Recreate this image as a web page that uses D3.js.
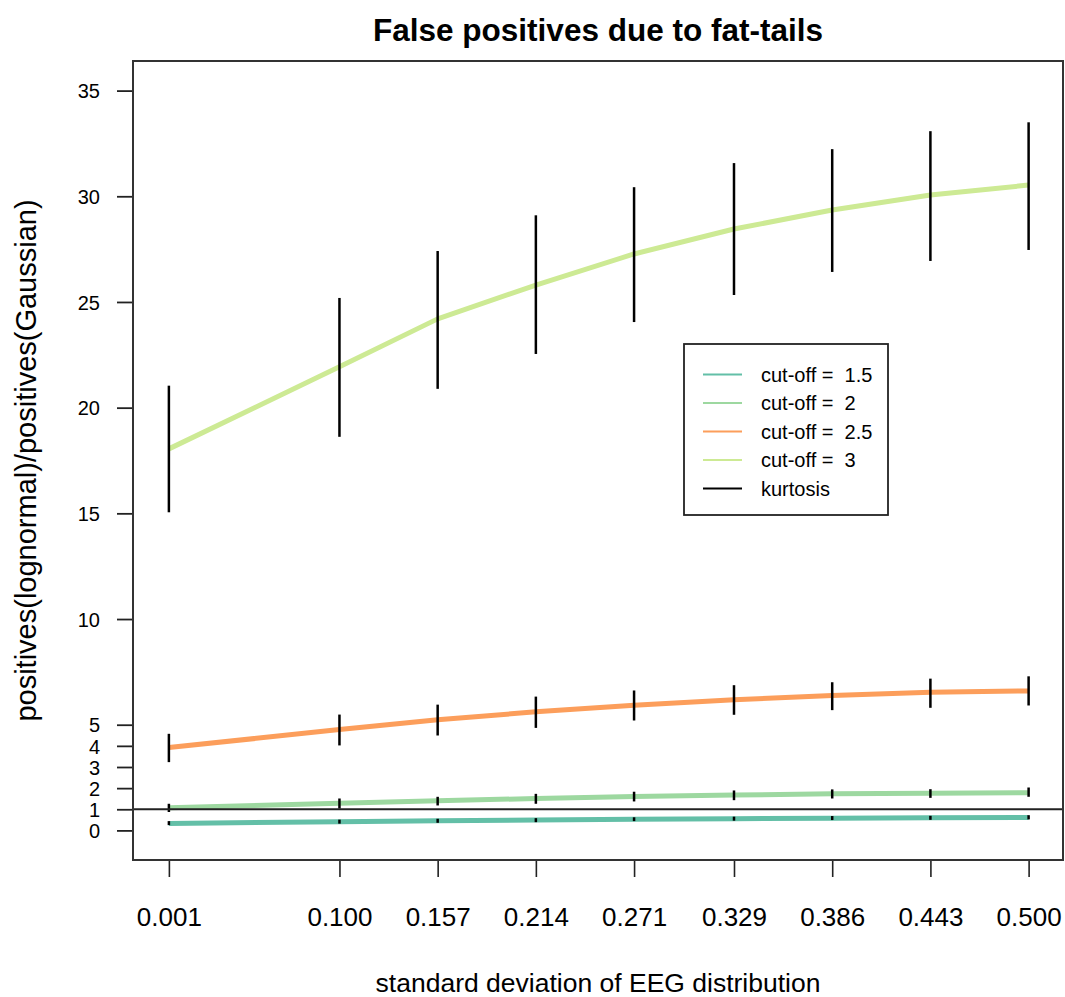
<!DOCTYPE html>
<html>
<head>
<meta charset="utf-8">
<script src="https://cdn.jsdelivr.net/npm/d3@7"></script>
<style>
  html, body { margin: 0; padding: 0; background: #fff; }
  svg { display: block; }
  text { font-family: "Liberation Sans", Arial, Helvetica, sans-serif; fill: #000; }
</style>
</head>
<body>
<svg id="chart" width="1065" height="997"></svg>
<script>
// ---------------- data ----------------
const xValues = [0.001, 0.100, 0.157, 0.214, 0.271, 0.329, 0.386, 0.443, 0.500];
const xTickLabels = ["0.001", "0.100", "0.157", "0.214", "0.271", "0.329", "0.386", "0.443", "0.500"];
const yTicks = [0, 1, 2, 3, 4, 5, 10, 15, 20, 25, 30, 35];

const seriesNames = ["cut-off =  1.5", "cut-off =  2", "cut-off =  2.5", "cut-off =  3"];
const seriesColors = ["#63bfa7", "#9dd8a0", "#fc9e5b", "#cdea94"];

const cut15 = [0.33, 0.41, 0.46, 0.49, 0.53, 0.55, 0.58, 0.60, 0.61];
const cut15Lo = [0.25, 0.32, 0.36, 0.39, 0.44, 0.46, 0.49, 0.50, 0.52];
const cut15Hi = [0.44, 0.51, 0.55, 0.58, 0.62, 0.65, 0.68, 0.69, 0.72];

const cut2 = [1.07, 1.28, 1.40, 1.51, 1.61, 1.67, 1.73, 1.76, 1.78];
const cut2Lo = [0.87, 1.03, 1.18, 1.26, 1.37, 1.43, 1.51, 1.54, 1.59];
const cut2Hi = [1.26, 1.51, 1.59, 1.73, 1.83, 1.89, 1.94, 1.95, 2.03];

const cut25 = [3.92, 4.77, 5.23, 5.61, 5.92, 6.18, 6.38, 6.54, 6.60];
const cut25Lo = [3.23, 4.02, 4.49, 4.85, 5.20, 5.47, 5.69, 5.80, 5.91];
const cut25Hi = [4.57, 5.48, 5.95, 6.33, 6.62, 6.87, 7.01, 7.18, 7.29];

const cut3 = [18.05, 21.93, 24.20, 25.80, 27.27, 28.45, 29.35, 30.06, 30.53];
const cut3Lo = [15.05, 18.62, 20.89, 22.54, 24.05, 25.33, 26.42, 26.94, 27.46];
const cut3Hi = [21.04, 25.19, 27.41, 29.10, 30.43, 31.57, 32.23, 33.08, 33.50];

const refLine = 1;

const seriesVals = [cut15, cut2, cut25, cut3];
const seriesLo = [cut15Lo, cut2Lo, cut25Lo, cut3Lo];
const seriesHi = [cut15Hi, cut2Hi, cut25Hi, cut3Hi];

// ---------------- layout ----------------
const svg = d3.select("#chart");
const plot = { left: 133, right: 1063, top: 61, bottom: 860 };

// R-style 4% axis extension
function ext(lo, hi) { const d = (hi - lo) * 0.04; return [lo - d, hi + d]; }

const x = d3.scaleLinear().domain(ext(0.001, 0.5)).range([plot.left + 1.5, plot.right]);
const y = d3.scaleLinear().domain(ext(0, 35)).range([plot.bottom, plot.top]);

// title
svg.append("text")
  .attr("x", (plot.left + plot.right) / 2)
  .attr("y", 41)
  .attr("text-anchor", "middle")
  .attr("font-size", 31.5)
  .attr("font-weight", "bold")
  .text("False positives due to fat-tails");

// x axis
const xAxis = d3.axisBottom(x)
  .tickValues(xValues)
  .tickFormat((d, i) => xTickLabels[i])
  .tickSize(17)
  .tickPadding(0);
const gx = svg.append("g").attr("transform", `translate(0,${plot.bottom})`).call(xAxis);
gx.select(".domain").remove();
gx.selectAll(".tick line").attr("stroke", "#222").attr("stroke-width", 1.6);
gx.selectAll(".tick text")
  .attr("y", 66).attr("dy", 0)
  .attr("font-size", 26)
  .attr("font-family", "\"Liberation Sans\", Arial, sans-serif")
  .attr("fill", "#000");

// y axis
const yAxis = d3.axisLeft(y)
  .tickValues(yTicks)
  .tickFormat(d3.format("d"))
  .tickSize(16)
  .tickPadding(0);
const gy = svg.append("g").attr("transform", `translate(${plot.left},0)`).call(yAxis);
gy.select(".domain").remove();
gy.selectAll(".tick line").attr("stroke", "#222").attr("stroke-width", 1.8);
gy.selectAll(".tick text")
  .attr("x", -33).attr("dy", "0.36em")
  .attr("font-size", 20)
  .attr("font-family", "\"Liberation Sans\", Arial, sans-serif")
  .attr("fill", "#000");

// axis titles
svg.append("text")
  .attr("x", (plot.left + plot.right) / 2)
  .attr("y", 992)
  .attr("text-anchor", "middle")
  .attr("font-size", 26.5)
  .text("standard deviation of EEG distribution");

svg.append("text")
  .attr("transform", `translate(36,${(plot.top + plot.bottom) / 2}) rotate(-90)`)
  .attr("text-anchor", "middle")
  .attr("font-size", 29)
  .text("positives(lognormal)/positives(Gaussian)");

// clip for plot region
svg.append("clipPath").attr("id", "clip")
  .append("rect")
  .attr("x", plot.left).attr("y", plot.top)
  .attr("width", plot.right - plot.left).attr("height", plot.bottom - plot.top);

const gp = svg.append("g").attr("clip-path", "url(#clip)");

// series lines
const line = d3.line().x((d, i) => x(xValues[i])).y(d => y(d));
seriesVals.forEach((vals, k) => {
  gp.append("path")
    .datum(vals)
    .attr("d", line)
    .attr("fill", "none")
    .attr("stroke", seriesColors[k])
    .attr("stroke-width", 5)
    .attr("stroke-linejoin", "round");
});

// error bars (kurtosis)
seriesVals.forEach((vals, k) => {
  gp.selectAll(null)
    .data(vals.map((v, i) => ({ x: xValues[i], lo: seriesLo[k][i], hi: seriesHi[k][i] })))
    .enter().append("line")
    .attr("x1", d => x(d.x)).attr("x2", d => x(d.x))
    .attr("y1", d => y(d.lo)).attr("y2", d => y(d.hi))
    .attr("stroke", "#000")
    .attr("stroke-width", 2.5);
});

// reference line at 1
gp.append("line")
  .attr("x1", plot.left).attr("x2", plot.right)
  .attr("y1", y(refLine)).attr("y2", y(refLine))
  .attr("stroke", "#222")
  .attr("stroke-width", 1.8);

// box
svg.append("rect")
  .attr("x", plot.left).attr("y", plot.top)
  .attr("width", plot.right - plot.left).attr("height", plot.bottom - plot.top)
  .attr("fill", "none")
  .attr("stroke", "#333")
  .attr("stroke-width", 2);

// legend
const legendNames = seriesNames.concat(["kurtosis"]);
const legendColors = seriesColors.concat(["#000"]);
const lg = svg.append("g").attr("transform", "translate(684,344)");
lg.append("rect")
  .attr("x", 0).attr("y", 0).attr("width", 204).attr("height", 171)
  .attr("fill", "#fff").attr("stroke", "#222").attr("stroke-width", 1.8);
legendNames.forEach((name, i) => {
  const cy = 30.5 + i * 28.5;
  lg.append("line")
    .attr("x1", 19).attr("x2", 58)
    .attr("y1", cy).attr("y2", cy)
    .attr("stroke", legendColors[i])
    .attr("stroke-width", 2);
  lg.append("text")
    .attr("x", 77).attr("y", cy).attr("dy", "0.36em")
    .attr("font-size", 20)
    .style("white-space", "pre")
    .text(name);
});
</script>
</body>
</html>
